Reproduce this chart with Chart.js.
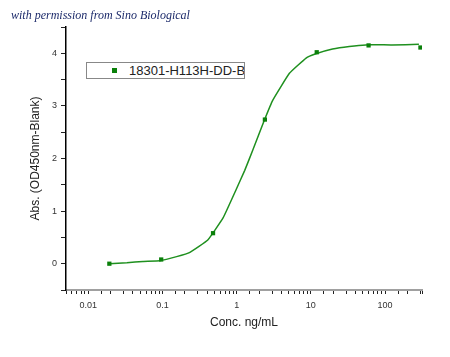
<!DOCTYPE html>
<html>
<head>
<meta charset="utf-8">
<script src="https://cdn.jsdelivr.net/npm/chart.js@4"></script>
<style>
  body { margin: 0; background: #fff; }
  #wrap { position: relative; width: 450px; height: 357px; }
  #note {
    position: absolute; left: 11px; top: 8px;
    font: italic 12px "Liberation Serif", serif; color: #1c2a6a;
    white-space: nowrap;
  }
  #legend {
    position: absolute; left: 86px; top: 62px; width: 157px; height: 15px;
    border: 1px solid #888; background: #fff; overflow: hidden; white-space: nowrap;
    font: 13px "Liberation Sans", Arial, sans-serif; color: #222; line-height: 15px;
  }
  #legend i {
    position: absolute; left: 25px; top: 5px; width: 5px; height: 5px; background: #0a800a;
  }
  #legend span { position: absolute; left: 42px; top: 0; }
</style>
</head>
<body>
<div id="wrap">
  <canvas id="chart" width="450" height="357"></canvas>
  <div id="note">with permission from Sino Biological</div>
  <div id="legend"><i></i><span id="legend-text"></span></div>
</div>
<script>
// measured points
const seriesName = "18301-H113H-DD-B";
const conc = [0.0192, 0.096, 0.48, 2.4, 12, 60, 300];
const absorb = [0.0, 0.08, 0.58, 2.74, 4.02, 4.15, 4.11];

// fitted curve
const fitConc = [0.0191, 0.0331, 0.0547, 0.0925, 0.155, 0.234, 0.408, 0.655, 0.991, 1.28, 1.65, 2.38, 3.07, 5.14, 8.62, 11.7, 19.6, 32.9, 55.1, 124, 286];
const fitAbs = [0.0, 0.019, 0.044, 0.057, 0.134, 0.216, 0.45, 0.87, 1.42, 1.77, 2.16, 2.74, 3.11, 3.62, 3.91, 3.99, 4.08, 4.13, 4.16, 4.16, 4.17];

const xTitle = "Conc. ng/mL";
const yTitle = "Abs. (OD450nm-Blank)";

document.getElementById("legend-text").innerText = seriesName;

const pts = conc.map((c, i) => ({ x: c, y: absorb[i] }));
const fit = fitConc.map((c, i) => ({ x: c, y: fitAbs[i] }));

const tickFont = { family: "Liberation Sans", size: 9 };
const titleFont = { family: "Liberation Sans", size: 12 };

new Chart(document.getElementById("chart"), {
  type: "scatter",
  data: {
    datasets: [
      {
        label: seriesName,
        data: pts,
        pointStyle: "rect",
        pointRadius: 3,
        backgroundColor: "#0a800a",
        borderColor: "#0a800a",
        borderWidth: 0,
        order: 1,
      },
      {
        label: "fit",
        data: fit,
        showLine: true,
        pointRadius: 0,
        borderColor: "#1f901f",
        borderWidth: 1.5,
        tension: 0.1,
        order: 2,
      },
    ],
  },
  options: {
    responsive: false,
    animation: false,
    layout: { padding: { left: 0, right: 28, top: 27, bottom: 0 } },
    plugins: { legend: { display: false }, tooltip: { enabled: false } },
    scales: {
      x: {
        type: "logarithmic",
        min: 0.005,
        max: 315,
        border: { color: "#a0a0a0", width: 2 },
        grid: { drawOnChartArea: false, tickLength: 4, color: "#222", tickColor: "#222" },
        ticks: {
          autoSkip: false,
          maxRotation: 0,
          font: tickFont,
          color: "#333",
          padding: 6,
          callback: (v) => {
            const l = Math.log10(v);
            return Math.abs(l - Math.round(l)) < 1e-6 ? String(Number(v.toPrecision(3))) : "";
          },
        },
        title: { display: true, text: xTitle, font: titleFont, color: "#222", padding: { top: 0, bottom: 27 } },
        afterFit: (s) => { s.height = 67; },
      },
      y: {
        min: -0.5,
        max: 4.5,
        border: { color: "#000", width: 1.5 },
        grid: { drawOnChartArea: false, tickLength: 5, color: "#222", tickColor: "#222" },
        ticks: {
          stepSize: 0.5,
          font: tickFont,
          color: "#333",
          padding: 4,
          callback: (v) => (Number.isInteger(v) ? String(v) : ""),
        },
        title: { display: true, text: yTitle, font: titleFont, color: "#222", padding: { top: 28, bottom: 0 } },
        afterFit: (s) => { s.width = 66; },
      },
    },
  },
});
</script>
</body>
</html>
